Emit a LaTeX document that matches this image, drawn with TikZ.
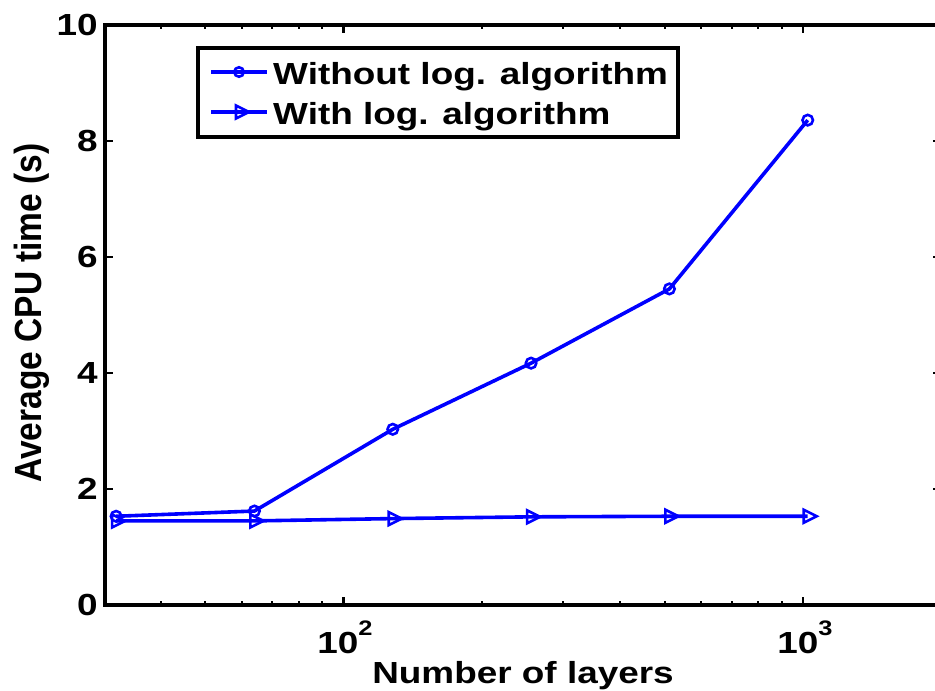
\documentclass[tikz,border=0pt]{standalone}
\usepackage{fontspec}
\setmainfont{Liberation Sans}
\usetikzlibrary{shapes.geometric}
\begin{document}
\begin{tikzpicture}[x=1pt,y=-1pt,
  declare function={lx(\n)=343.5+459.5*(log10(\n)-2); vy(\v)=605-58*\v;},
  axisline/.style={line width=3.3pt},
  majortick/.style={line width=2.4pt},
  minortick/.style={line width=2pt},
  series/.style={draw=blue, line width=3.6pt, line join=round},
  circmark/.style={circle, draw=blue, line width=2.6pt, minimum size=10.5pt, inner sep=0pt},
  trimark/.style={isosceles triangle, isosceles triangle stretches, draw=blue, line width=2.6pt, minimum width=13pt, minimum height=13pt, inner sep=0pt},
  lbl/.style={inner sep=0pt, xscale=1.21, font=\fontsize{30.5}{36}\selectfont\bfseries},
]
\useasboundingbox (0,0) rectangle (935,691);
\fill[white] (0,0) rectangle (935,691);
\clip (0,0) rectangle (935,691);

% data coordinates
\foreach \n/\a/\b [count=\i] in {32/1.53/1.45, 64/1.62/1.45, 128/3.03/1.49, 256/4.17/1.52, 512/5.45/1.53, 1024/8.36/1.53} {
  \coordinate (w\i) at ({lx(\n)},{vy(\a)});
  \coordinate (l\i) at ({lx(\n)},{vy(\b)});
}

% series
\draw[series] (w1) -- (w2) -- (w3) -- (w4) -- (w5) -- (w6);
\draw[series] (l1) -- (l2) -- (l3) -- (l4) -- (l5) -- (l6);
\foreach \i in {1,...,6} {
  \node[circmark] (cw\i) at (w\i) {};
  \node[trimark] (tl\i) at (l\i) {};
}

% axes box
\draw[axisline] (105,25) rectangle (941,605);

% y ticks and labels
\foreach \v in {0,2,4,6,8,10} {
  \draw[majortick] (105,{vy(\v)}) -- ++(8,0);
  \draw[majortick] (941,{vy(\v)}) -- ++(-8,0);
  \node[lbl, anchor=east] (yt\v) at (98,{vy(\v)}) {\v};
}

% x major ticks
\foreach \n in {100,1000} {
  \draw[majortick] ({lx(\n)},605) -- ++(0,-8);
  \draw[majortick] ({lx(\n)},25) -- ++(0,8);
}
% x minor ticks
\foreach \n in {40,50,60,70,80,90,200,300,400,500,600,700,800,900} {
  \draw[minortick] ({lx(\n)},605) -- ++(0,-4);
  \draw[minortick] ({lx(\n)},25) -- ++(0,4);
}

% x tick labels
\node[lbl, anchor=base] (xt2) at (345,653) {10\raisebox{18pt}{\fontsize{21}{21}\selectfont 2}};
\node[lbl, anchor=base] (xt3) at (805,653) {10\raisebox{18pt}{\fontsize{21}{21}\selectfont 3}};

% axis labels
\node[lbl, anchor=base] (xlab) at (523,683) {Number of layers};
\node[inner sep=0pt, rotate=90, yscale=1.13, font=\fontsize{33.5}{40}\selectfont\bfseries, anchor=base] (ylab) at (41,313) {Average CPU time (s)};

% legend
\draw[line width=3.3pt] (198,48) rectangle (678,137);
\coordinate (la1) at (211,72);
\coordinate (lb1) at (267,72);
\coordinate (la2) at (211,112);
\coordinate (lb2) at (267,112);
\draw[series] (la1) -- (lb1);
\draw[series] (la2) -- (lb2);
\node[circmark, minimum size=9.5pt] (lgc) at (239,72) {};
\node[trimark] (lgt) at (240,112) {};
\node[lbl, anchor=base west] (lgt1) at (273,84) {Without log. algorithm};
\node[lbl, anchor=base west] (lgt2) at (273,124) {With log. algorithm};
\end{tikzpicture}
\end{document}
